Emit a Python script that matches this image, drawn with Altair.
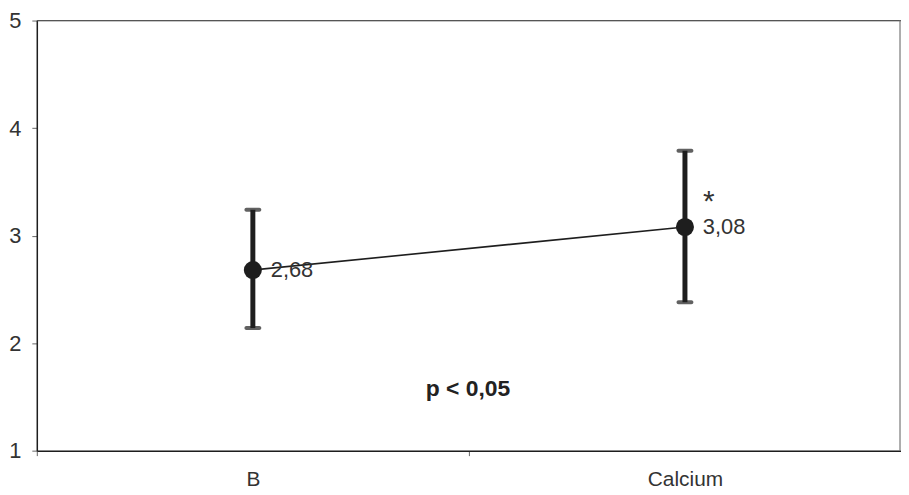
import altair as alt
import pandas as pd

categories = ["B", "Calcium"]
means = [2.68, 3.08]
upper = [3.24, 3.79]
lower = [2.14, 2.38]
value_labels = ["2,68", "3,08"]
star_labels = ["", "*"]
y_ticks = [1, 2, 3, 4, 5]
p_text = ["p < 0,05"]

df = pd.DataFrame({
    "cat": categories, "mean": means, "hi": upper, "lo": lower,
    "label": value_labels, "star": star_labels,
})
pdf = pd.DataFrame({"t": p_text})

FONT = "Liberation Sans"
DARK = "#1e1e1e"

x = alt.X(
    "cat:N", sort=categories,
    scale=alt.Scale(type="band", paddingInner=0, paddingOuter=0),
    axis=alt.Axis(title=None, labelAngle=0, tickBand="extent", labelFontSize=21,
                  labelColor="#333", tickSize=5, tickColor="#666", labelPadding=13,
                  domainColor=DARK, domainWidth=1.5, grid=False, labelFont=FONT),
)
yscale = alt.Scale(domain=[1, 5], nice=False, zero=False)
y = alt.Y(
    "mean:Q", scale=yscale,
    axis=alt.Axis(title=None, values=y_ticks, labelFontSize=22, labelColor="#333",
                  tickSize=5, tickColor="#666", labelPadding=11, domainColor=DARK,
                  domainWidth=1.5, grid=False, format="d", labelFont=FONT),
)

base = alt.Chart(df)

frame_top = alt.Chart(pdf).mark_rule(color="#555", strokeWidth=1.2).encode(
    x=alt.value(0), x2=alt.value(870), y=alt.value(0))
frame_right = alt.Chart(pdf).mark_rule(color="#777", strokeWidth=1.2).encode(
    x=alt.value(869), y=alt.value(0), y2=alt.value(433))

line = base.mark_line(color=DARK, strokeWidth=1.6).encode(x=x, y=y)
bars = base.mark_rule(color=DARK, strokeWidth=5).encode(
    x=x, y=alt.Y("lo:Q", scale=yscale), y2="hi:Q")
cap_hi = base.mark_tick(color=DARK, thickness=4, size=17, cornerRadius=2).encode(
    x=x, y=alt.Y("hi:Q", scale=yscale))
cap_lo = base.mark_tick(color=DARK, thickness=4, size=17, cornerRadius=2).encode(
    x=x, y=alt.Y("lo:Q", scale=yscale))
pts = base.mark_circle(color=DARK, size=330, opacity=1).encode(x=x, y=y)
labels = base.mark_text(align="left", baseline="middle", dx=18, fontSize=22,
                        color="#333", font=FONT).encode(x=x, y=y, text="label:N")
stars = base.mark_text(align="center", baseline="middle", dx=24, dy=-25, fontSize=30,
                       color="#333", font=FONT).encode(x=x, y=y, text="star:N")
ptxt = alt.Chart(pdf).mark_text(align="center", baseline="middle", fontSize=23,
                                fontWeight="bold", color="#222", font=FONT).encode(
    x=alt.value(434), y=alt.value(371), text="t:N")

chart = alt.layer(frame_top, frame_right, line, bars, cap_hi, cap_lo, pts, labels,
                  stars, ptxt).properties(
    width=870, height=433,
    autosize=alt.AutoSizeParams(type="none"),
    padding={"left": 29, "top": 11, "right": 0, "bottom": 42},
    background="white",
).configure_view(strokeWidth=0).configure(font=FONT)

chart.save("out.html", embed_options={"renderer": "svg", "actions": False})
